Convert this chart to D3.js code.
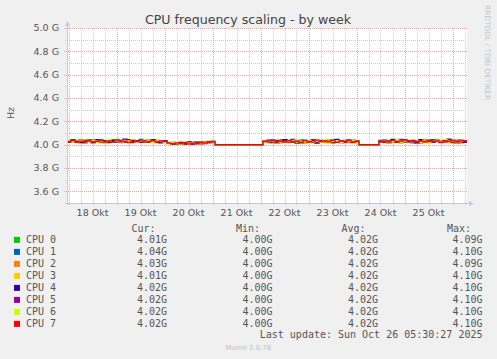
<!DOCTYPE html>
<html>
<head>
<meta charset="utf-8">
<script src="https://cdn.jsdelivr.net/npm/d3@7"></script>
<style>
  html, body { margin: 0; padding: 0; background: #f0f0f0; }
  svg { display: block; }
</style>
</head>
<body>
<svg id="chart" width="497" height="359"></svg>
<script>
// ---------------- DATA (values in MHz, one point every 2 hours) ----------------
const seriesNames = ["CPU 0","CPU 1","CPU 2","CPU 3","CPU 4","CPU 5","CPU 6","CPU 7"];
const seriesColors = ["#00CC00","#0066B3","#FF8000","#FFCC00","#330099","#990099","#CCFF00","#FF0000"];

const cpu0 = [4031,4024,4036,4019,4028,4041,4022,4030,4017,4035,4027,4044,4021,4029,4033,4018,4038,4025,4030,4022,4040,4027,4019,4034,4029,
  4012,4006,4018,4003,4015,4009,4021,4005,4013,4019,4026,4017,
  4000,4000,4000,4000,4000,4000,4000,4000,4000,4000,4000,4000,
  4022,4031,4016,4037,4025,4019,4034,4028,4012,4040,4023,4030,4017,4035,4026,4021,4038,4015,4029,4033,4020,4036,4024,4018,
  4000,4000,4000,4000,4000,
  4027,4019,4035,4022,4040,4016,4031,4025,4038,4020,4029,4034,4018,4042,4026,4021,4033,4028,4015,4037,4024,4030,4023];
const cpu1 = [4026,4038,4020,4032,4015,4029,4043,4024,4034,4019,4031,4026,4039,4017,4028,4036,4022,4030,4045,4021,4027,4033,4018,4031,4025,
  4015,4008,4011,4020,4004,4016,4010,4023,4007,4014,4022,4028,
  4000,4000,4000,4000,4000,4000,4000,4000,4000,4000,4000,4000,
  4029,4018,4035,4024,4042,4020,4027,4033,4016,4030,4039,4022,4026,4014,4036,4028,4019,4041,4025,4031,4017,4034,4027,4022,
  4000,4000,4000,4000,4000,
  4033,4024,4018,4037,4029,4021,4044,4026,4015,4032,4038,4023,4030,4019,4035,4027,4041,4022,4029,4034,4018,4031,4040];
const cpu2 = [4022,4033,4027,4040,4018,4031,4025,4037,4029,4014,4032,4023,4041,4028,4020,4035,4026,4031,4017,4039,4024,4030,4036,4021,4032,
  4009,4017,4004,4013,4021,4007,4012,4018,4010,4025,4016,4023,
  4000,4000,4000,4000,4000,4000,4000,4000,4000,4000,4000,4000,
  4020,4034,4027,4015,4038,4023,4031,4019,4036,4025,4013,4032,4040,4021,4028,4017,4033,4024,4039,4020,4030,4026,4015,4035,
  4000,4000,4000,4000,4000,
  4021,4036,4028,4017,4033,4025,4039,4020,4031,4026,4014,4037,4023,4030,4043,4019,4027,4034,4022,4038,4016,4029,4032];
const cpu3 = [4035,4021,4029,4016,4042,4027,4033,4020,4038,4025,4019,4031,4046,4023,4030,4015,4034,4028,4022,4037,4030,4018,4041,4026,4023,
  4018,4011,4005,4016,4024,4008,4013,4003,4019,4012,4029,4020,
  4000,4000,4000,4000,4000,4000,4000,4000,4000,4000,4000,4000,
  4033,4026,4019,4041,4024,4030,4015,4037,4022,4028,4035,4018,4031,4044,4023,4027,4014,4036,4029,4021,4038,4016,4032,4026,
  4000,4000,4000,4000,4000,
  4030,4015,4027,4041,4022,4034,4019,4028,4036,4024,4045,4017,4031,4026,4038,4021,4033,4016,4040,4025,4029,4035,4020];
const cpu4 = [4028,4040,4023,4017,4034,4029,4021,4043,4026,4032,4018,4037,4024,4030,4047,4020,4027,4035,4019,4031,4025,4042,4028,4016,4033,
  4013,4020,4007,4016,4010,4024,4005,4015,4021,4009,4018,4027,
  4000,4000,4000,4000,4000,4000,4000,4000,4000,4000,4000,4000,
  4025,4038,4020,4031,4017,4044,4028,4023,4035,4019,4032,4027,4041,4015,4029,4036,4022,4030,4046,4018,4033,4024,4039,4021,
  4000,4000,4000,4000,4000,
  4036,4022,4031,4045,4019,4028,4037,4024,4033,4016,4042,4027,4021,4039,4030,4018,4035,4047,4023,4029,4038,4020,4032];
const cpu5 = [4019,4032,4026,4038,4022,4035,4016,4029,4041,4024,4033,4020,4028,4037,4023,4044,4018,4030,4026,4034,4021,4039,4025,4031,4027,
  4016,4004,4012,4019,4008,4022,4014,4006,4017,4011,4024,4019,
  4000,4000,4000,4000,4000,4000,4000,4000,4000,4000,4000,4000,
  4031,4023,4040,4018,4027,4035,4021,4046,4029,4016,4033,4025,4038,4020,4030,4042,4024,4017,4034,4028,4022,4040,4019,4031,
  4000,4000,4000,4000,4000,
  4024,4039,4018,4032,4027,4046,4021,4035,4029,4017,4033,4040,4025,4019,4036,4028,4022,4044,4030,4016,4034,4026,4037];
const cpu6 = [4033,4025,4018,4036,4029,4022,4039,4027,4031,4015,4040,4026,4032,4019,4035,4028,4042,4021,4030,4024,4037,4017,4033,4028,4020,
  4010,4019,4014,4006,4021,4013,4017,4009,4020,4015,4027,4022,
  4000,4000,4000,4000,4000,4000,4000,4000,4000,4000,4000,4000,
  4018,4030,4025,4037,4022,4016,4033,4027,4040,4021,4029,4036,4019,4032,4024,4043,4017,4028,4035,4020,4031,4027,4038,4023,
  4000,4000,4000,4000,4000,
  4029,4034,4020,4026,4041,4023,4032,4018,4037,4030,4024,4039,4016,4028,4035,4022,4045,4027,4033,4019,4031,4036,4025];
const cpu7 = [4027,4034,4020,4031,4025,4038,4023,4029,4035,4021,4032,4026,4040,4024,4030,4019,4036,4027,4033,4022,4029,4037,4024,4031,4026,
  4014,4009,4016,4011,4018,4007,4015,4012,4019,4016,4025,4021,
  4000,4000,4000,4000,4000,4000,4000,4000,4000,4000,4000,4000,
  4026,4032,4021,4035,4028,4023,4037,4025,4030,4019,4034,4027,4022,4039,4026,4031,4024,4036,4020,4033,4028,4035,4023,4029,
  4000,4000,4000,4000,4000,
  4028,4033,4022,4036,4025,4030,4039,4021,4034,4027,4031,4024,4038,4026,4032,4020,4035,4029,4037,4023,4030,4034,4026];

const curValues = ["4.01G","4.04G","4.03G","4.01G","4.02G","4.02G","4.02G","4.02G"];
const minValues = ["4.00G","4.00G","4.00G","4.00G","4.00G","4.00G","4.00G","4.00G"];
const avgValues = ["4.02G","4.02G","4.02G","4.02G","4.02G","4.02G","4.02G","4.02G"];
const maxValues = ["4.09G","4.10G","4.09G","4.10G","4.10G","4.10G","4.10G","4.10G"];

const yTickValues = [3.6e9, 3.8e9, 4.0e9, 4.2e9, 4.4e9, 4.6e9, 4.8e9, 5.0e9];
const xLabelDays = ["18 Okt","19 Okt","20 Okt","21 Okt","22 Okt","23 Okt","24 Okt","25 Okt"];

const titleText = "CPU frequency scaling - by week";
const lastUpdate = "Last update: Sun Oct 26 05:30:27 2025";
const footerText = "Munin 2.0.76";
const sideText = "RRDTOOL / TOBI OETIKER";

// ---------------- LAYOUT ----------------
const W = 497, H = 359;
const L = 67, R = 467, T = 28, B = 203;
const startTime = new Date(Date.UTC(2025, 9, 17, 23, 15));
const endTime = new Date(Date.UTC(2025, 9, 26, 7, 15));
const stepMs = 2 * 3600 * 1000;

const svg = d3.select("#chart");
const x = d3.scaleUtc().domain([startTime, endTime]).range([L, R]);
const y = d3.scaleLinear().domain([3.5e9, 5.0e9]).range([B, T]);

svg.append("rect").attr("width", W).attr("height", H).attr("fill", "#f0f0f0");
svg.append("rect").attr("x", L).attr("y", T).attr("width", R - L).attr("height", B - T).attr("fill", "#ffffff");

// grid
const g = svg.append("g").attr("shape-rendering", "crispEdges");
const minorY = d3.range(36, 51).map(v => v * 1e8).filter(v => Math.round(v / 1e8) % 2 === 1);
const hours6 = d3.utcHour.every(6).range(startTime, endTime).filter(d => d.getUTCHours() !== 0);
const days = d3.utcDay.range(startTime, endTime);

g.selectAll("line.minx").data(hours6).join("line")
  .attr("x1", d => Math.round(x(d)) + 0.5).attr("x2", d => Math.round(x(d)) + 0.5)
  .attr("y1", T).attr("y2", B + 2)
  .attr("stroke", "#cbcbcb").attr("stroke-dasharray", "1,1");
g.selectAll("line.miny").data(minorY).join("line")
  .attr("x1", L - 2).attr("x2", R)
  .attr("y1", d => Math.round(y(d)) + 0.5).attr("y2", d => Math.round(y(d)) + 0.5)
  .attr("stroke", "#cbcbcb").attr("stroke-dasharray", "1,1");
g.selectAll("line.majx").data(days).join("line")
  .attr("x1", d => Math.round(x(d)) + 0.5).attr("x2", d => Math.round(x(d)) + 0.5)
  .attr("y1", T).attr("y2", B + 3)
  .attr("stroke", "#efaaaa").attr("stroke-dasharray", "1,1");
g.selectAll("line.majy").data(yTickValues).join("line")
  .attr("x1", L - 3).attr("x2", R)
  .attr("y1", d => Math.round(y(d)) + 0.5).attr("y2", d => Math.round(y(d)) + 0.5)
  .attr("stroke", "#efaaaa").attr("stroke-dasharray", "1,1");

// y tick labels
const fmtG = d => (d / 1e9).toFixed(1) + " G";
svg.selectAll("text.ytick").data(yTickValues).join("text")
  .attr("x", 59).attr("y", d => y(d) + 3.4)
  .attr("text-anchor", "end")
  .attr("font-family", "DejaVu Sans").attr("font-size", 9.5).attr("fill", "#555")
  .text(fmtG);

// x labels (noon of each day)
svg.selectAll("text.xlab").data(days).join("text")
  .attr("x", d => x(d3.utcHour.offset(d, 12)))
  .attr("y", 216)
  .attr("text-anchor", "middle")
  .attr("font-family", "DejaVu Sans").attr("font-size", 9.5).attr("fill", "#555")
  .text((d, i) => xLabelDays[i]);

// data lines
svg.append("clipPath").attr("id", "plotclip").append("rect")
  .attr("x", L).attr("y", T - 5).attr("width", R - L).attr("height", B - T + 5);
const allSeries = [cpu0, cpu1, cpu2, cpu3, cpu4, cpu5, cpu6, cpu7];
const line = d3.line()
  .x((d, i) => x(new Date(startTime.getTime() + i * stepMs)))
  .y(d => y(d * 1e6))
  .curve(d3.curveStepAfter);
svg.append("g").attr("clip-path", "url(#plotclip)")
  .selectAll("path").data(allSeries).join("path")
  .attr("d", line)
  .attr("fill", "none")
  .attr("stroke", (d, i) => seriesColors[i])
  .attr("stroke-width", 1.3);

// axes
const axisColor = "#c6c6ec";
svg.append("line").attr("x1", L + 0.5).attr("x2", L + 0.5).attr("y1", T - 3).attr("y2", B + 2)
  .attr("stroke", axisColor).attr("shape-rendering", "crispEdges");
svg.append("line").attr("x1", L - 2).attr("x2", R + 2).attr("y1", B + 0.5).attr("y2", B + 0.5)
  .attr("stroke", axisColor).attr("shape-rendering", "crispEdges");
svg.append("path").attr("d", `M${L - 2},${T - 2} L${L + 3},${T - 2} L${L + 0.5},${T - 7} Z`).attr("fill", axisColor);
svg.append("path").attr("d", `M${R + 2},${B - 2} L${R + 2},${B + 3} L${R + 7},${B + 0.5} Z`).attr("fill", axisColor);

// title
svg.append("text").attr("x", 248).attr("y", 23.5).attr("text-anchor", "middle")
  .attr("font-family", "DejaVu Sans").attr("font-size", 12.6).attr("fill", "#444")
  .text(titleText);

// y axis label
svg.append("text").attr("transform", "translate(13.5,113) rotate(-90)")
  .attr("text-anchor", "middle")
  .attr("font-family", "DejaVu Sans").attr("font-size", 9.5).attr("fill", "#555")
  .text("Hz");

// side text
svg.append("text").attr("transform", "translate(484.7,5) rotate(90)")
  .attr("font-family", "DejaVu Sans").attr("font-size", 7.4).attr("fill", "#c4c4c4")
  .text(sideText);

// legend
const mono = "DejaVu Sans Mono";
const lg = svg.append("g").attr("font-family", mono).attr("font-size", 10).attr("fill", "#555");
const headers = [["Cur:", 131.5], ["Min:", 236], ["Avg:", 341.5], ["Max:", 447]];
lg.selectAll("text.hdr").data(headers).join("text")
  .attr("x", d => d[1]).attr("y", 231.5).text(d => d[0]);
const rowY = i => 243.4 + 12 * i;
lg.selectAll("rect.box").data(seriesNames).join("rect")
  .attr("x", 14).attr("y", (d, i) => rowY(i) - 6.5).attr("width", 6).attr("height", 6)
  .attr("fill", (d, i) => seriesColors[i]);
lg.selectAll("text.name").data(seriesNames).join("text")
  .attr("x", 26).attr("y", (d, i) => rowY(i)).text(d => d);
const cols = [[curValues, 167], [minValues, 272.5], [avgValues, 378], [maxValues, 482.5]];
cols.forEach(([vals, xr]) => {
  lg.selectAll(null).data(vals).join("text")
    .attr("x", xr).attr("y", (d, i) => rowY(i)).attr("text-anchor", "end").text(d => d);
});
lg.append("text").attr("x", 482.5).attr("y", 338).attr("text-anchor", "end").text(lastUpdate);

svg.append("text").attr("x", 248.5).attr("y", 350.2).attr("text-anchor", "middle")
  .attr("font-family", "DejaVu Sans").attr("font-size", 7).attr("fill", "#c0c0c0")
  .text(footerText);
</script>
</body>
</html>
